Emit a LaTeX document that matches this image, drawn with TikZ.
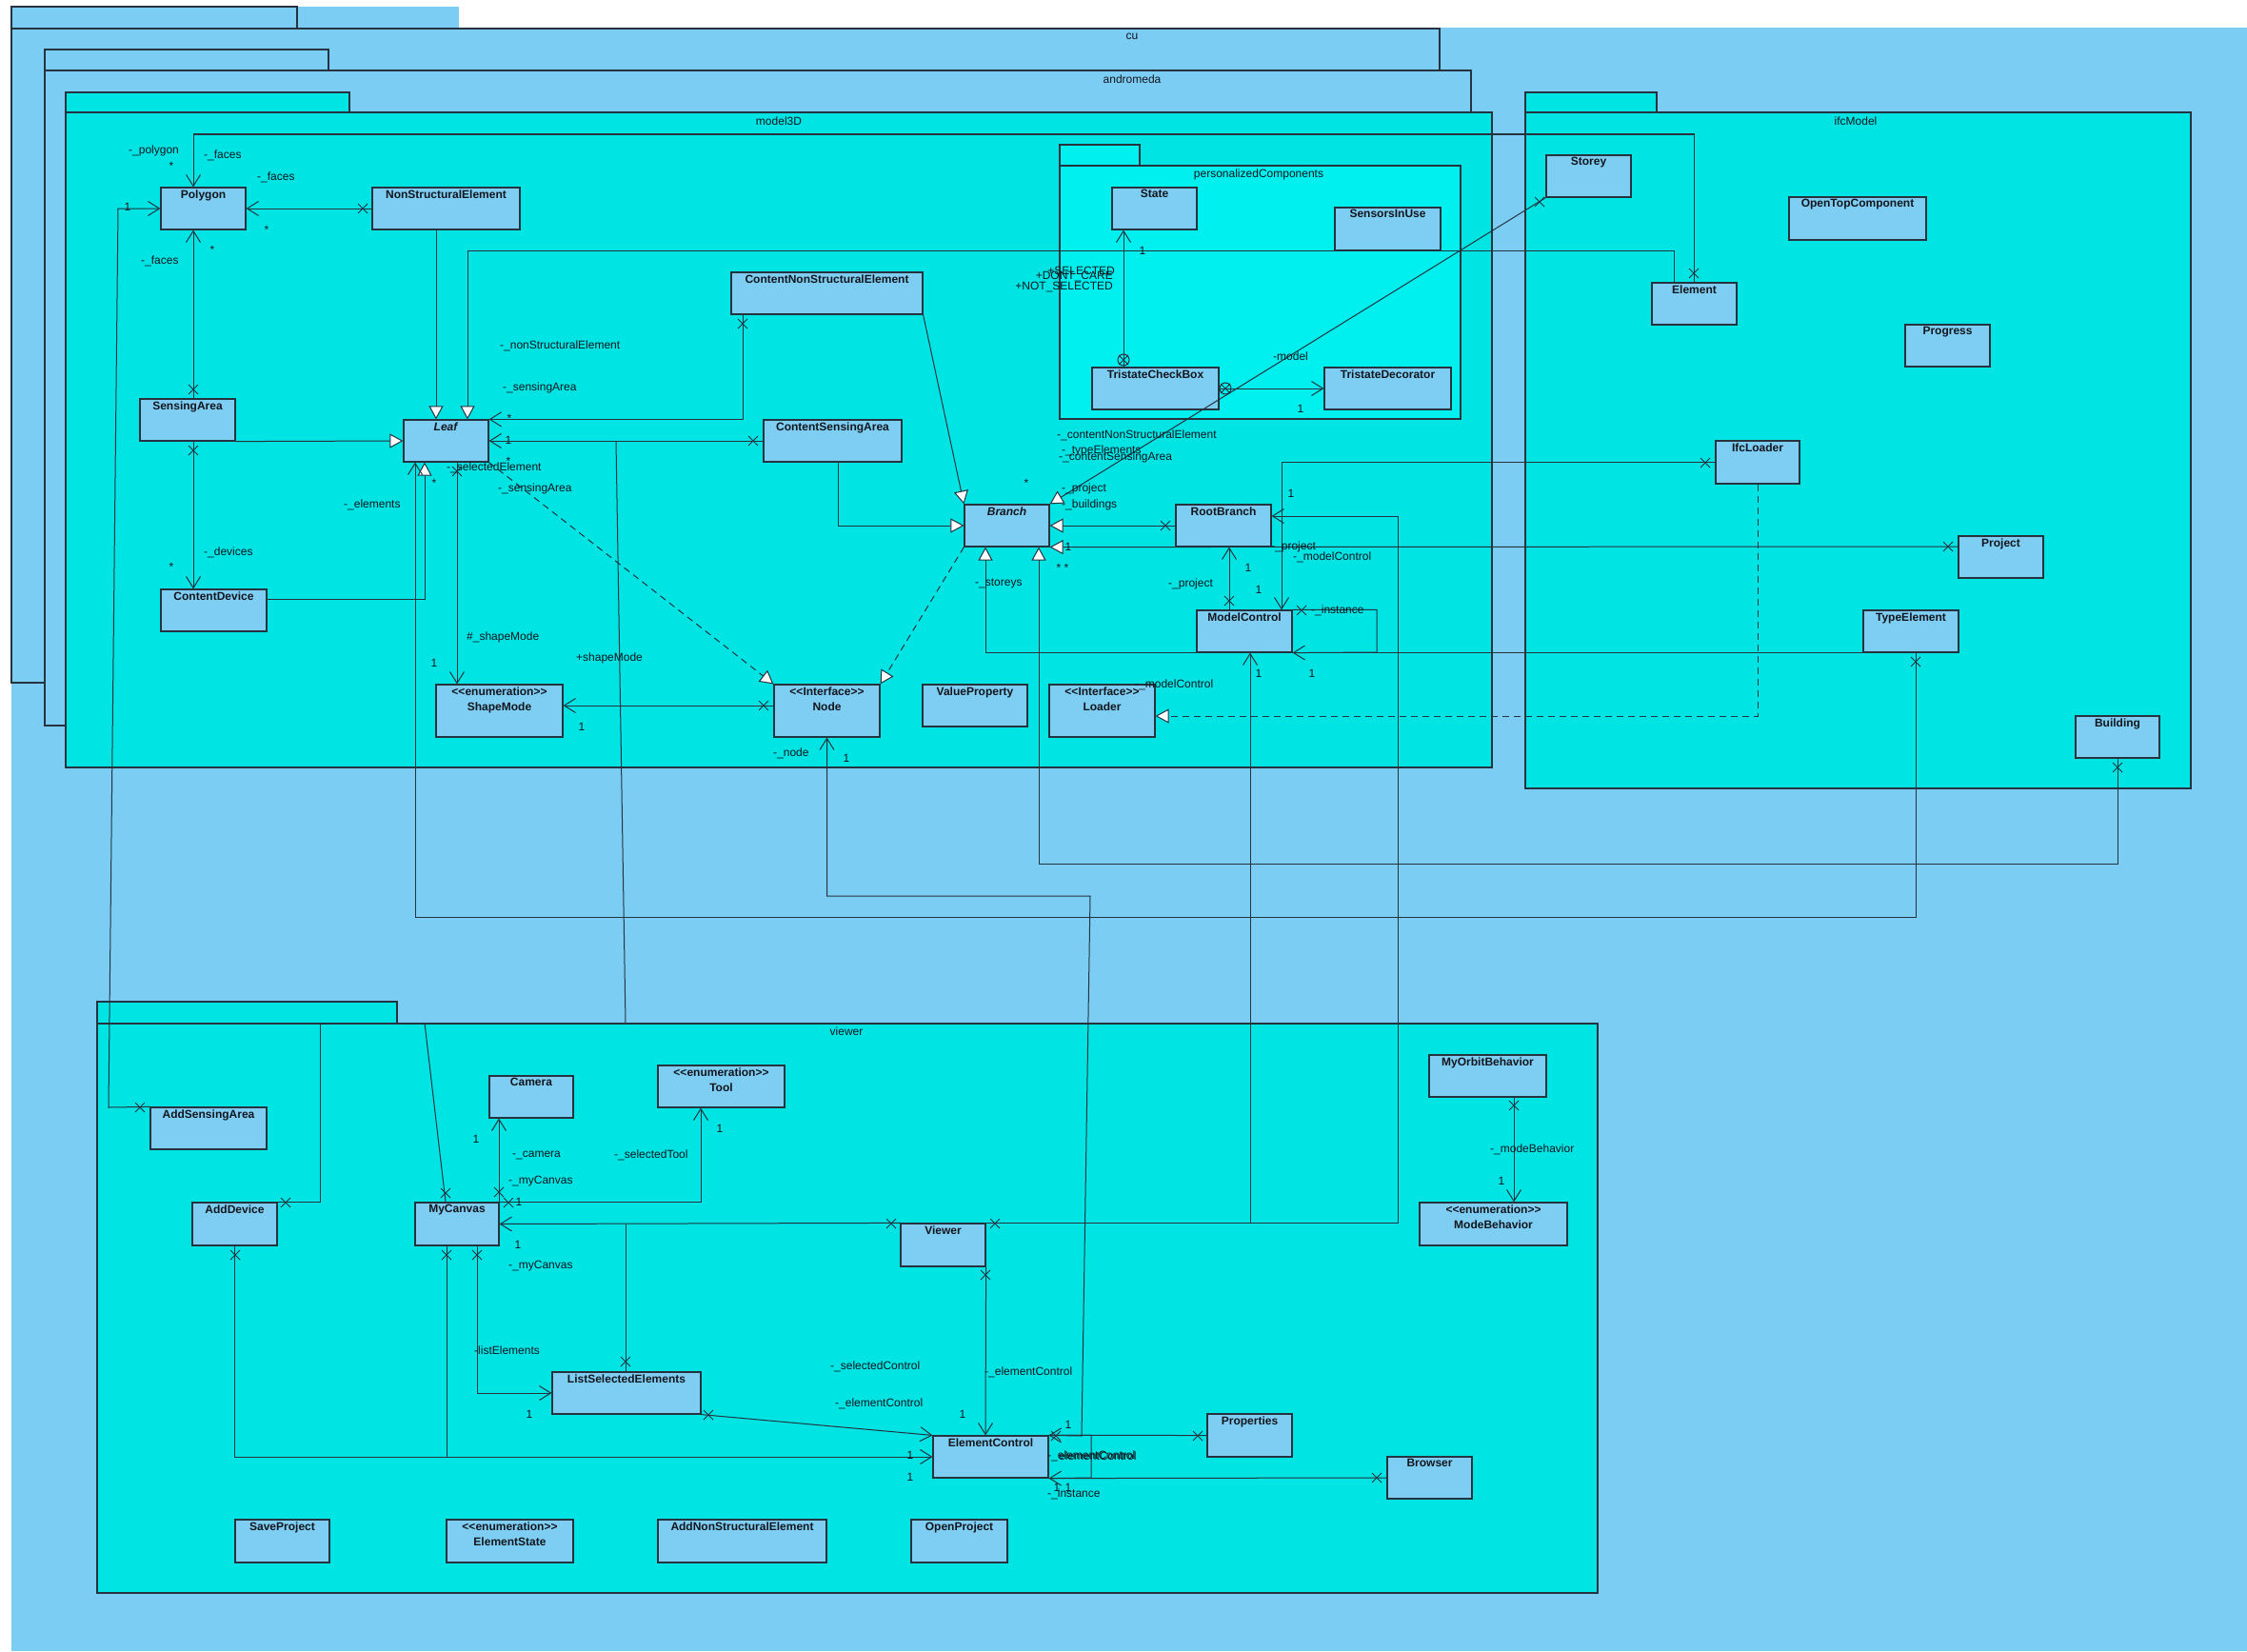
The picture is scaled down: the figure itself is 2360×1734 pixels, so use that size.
\documentclass[tikz,border=0pt]{standalone}
\usepackage{fontspec}
\newfontfamily\lsans{Liberation Sans}
\usetikzlibrary{arrows.meta,fit}
\definecolor{bgblue}{RGB}{124,205,243}
\definecolor{pkgcyan}{RGB}{0,228,228}
\definecolor{pccyan}{RGB}{0,240,240}
\definecolor{clsfill}{RGB}{126,206,243}
\definecolor{lc}{RGB}{38,50,62}
\definecolor{txt}{RGB}{20,22,30}
\newcounter{lbc}
\tikzset{
  lbl/.style={font=\lsans\fontsize{12}{14}\selectfont, text=txt, inner sep=0pt},
  cls/.style={draw=lc, line width=1.2pt, fill=clsfill, inner sep=0pt},
  clsname/.style={font=\lsans\bfseries\fontsize{12}{16}\selectfont, text=txt, inner sep=0pt, anchor=north, align=center},
  pkg/.style={draw=lc, line width=1.2pt, inner sep=0pt},
  pkgtab/.style={draw=lc, line width=1.2pt},
  conn/.style={draw=lc, line width=1pt},
  dsh/.style={dash pattern=on 7pt off 5pt},
  nav/.style={-{Straight Barb[length=12pt,width=15pt,line width=1pt]}},
  gen/.style={-{Triangle[length=14pt,width=15pt,fill=white,line width=1pt]}},
  xmk/.style={draw=lc, line width=1pt},
}
\newcommand\umlcls[6]{%
  \node[cls, fit={(#2,#3)(#4,#5)}] (#1) {};
  \node[clsname] (#1-name) at ([yshift=-3pt]#1.north) {#6};}
\newcommand\umllb[4][west]{\stepcounter{lbc}\node[lbl,anchor=#1] (lb\arabic{lbc}) at (#2,#3) {#4};}
\newcommand\umlx[2]{\draw[xmk] (#1,#2) +(-5,-5) -- +(5,5) +(-5,5) -- +(5,-5);}
\newcommand\umlanc[2]{\draw[xmk] (#1,#2) circle[radius=6pt] +(-5,-5) -- +(5,5) +(-5,5) -- +(5,-5);}
\begin{document}
\begin{tikzpicture}[x=1pt,y=-1pt]
\useasboundingbox (0,0) rectangle (2360,1734);
\fill[white] (0,0) rectangle (2360,1734);
% outer background
\fill[bgblue] (12,7) rectangle (482,30);
\fill[bgblue] (12,29) rectangle (2360,1734);
% packages
\draw[pkgtab] (12,30) -- (12,7) -- (312,7) -- (312,30);
\node[pkg, fill=bgblue, fit={(12,30)(1512,717)}] (cu) {};
\filldraw[pkgtab, fill=bgblue] (47,52) rectangle (345,74);
\node[pkg, fill=bgblue, fit={(47,74)(1545,762)}] (andromeda) {};
\filldraw[pkgtab, fill=pkgcyan] (69,97) rectangle (367,118);
\node[pkg, fill=pkgcyan, fit={(69,118)(1567,806)}] (model3D) {};
\filldraw[pkgtab, fill=pccyan] (1113,152) rectangle (1197,174);
\node[pkg, fill=pccyan, fit={(1113,174)(1534,440)}] (pc) {};
\filldraw[pkgtab, fill=pkgcyan] (1602,97) rectangle (1740,118);
\node[pkg, fill=pkgcyan, fit={(1602,118)(2301,828)}] (ifcModel) {};
\filldraw[pkgtab, fill=pkgcyan] (102,1052) rectangle (417,1075);
\node[pkg, fill=pkgcyan, fit={(102,1075)(1678,1673)}] (viewer) {};
\umllb[center]{1189}{38}{cu}
\umllb[center]{1189}{83}{andromeda}
\umllb[center]{818}{127}{model3D}
\umllb[center]{1949}{127}{ifcModel}
\umllb[center]{1322}{183}{personalizedComponents}
\umllb[center]{889}{1083}{viewer}
% classes
\umlcls{Polygon}{169}{197}{258}{241}{Polygon}
\umlcls{NSE}{391}{197}{546}{241}{NonStructuralElement}
\umlcls{SensingArea}{147}{419}{247}{463}{SensingArea}
\umlcls{Leaf}{424}{441}{513}{485}{\textit{Leaf}}
\umlcls{ContentDevice}{169}{619}{280}{663}{ContentDevice}
\umlcls{ShapeMode}{458}{719}{591}{774}{<<enumeration>>\\ShapeMode}
\umlcls{CNSE}{768}{286}{969}{330}{ContentNonStructuralElement}
\umlcls{CSA}{802}{441}{947}{485}{ContentSensingArea}
\umlcls{State}{1168}{197}{1257}{241}{State}
\umlcls{SensorsInUse}{1402}{218}{1513}{263}{SensorsInUse}
\umlcls{TCB}{1147}{386}{1280}{430}{TristateCheckBox}
\umlcls{TDec}{1391}{386}{1524}{430}{TristateDecorator}
\umlcls{Branch}{1013}{530}{1102}{574}{\textit{Branch}}
\umlcls{RootBranch}{1235}{530}{1335}{574}{RootBranch}
\umlcls{ModelControl}{1257}{641}{1357}{685}{ModelControl}
\umlcls{Node}{813}{719}{924}{774}{<<Interface>>\\Node}
\umlcls{ValueProperty}{969}{719}{1079}{763}{ValueProperty}
\umlcls{Loader}{1102}{719}{1213}{774}{<<Interface>>\\Loader}
\umlcls{Storey}{1624}{163}{1713}{207}{Storey}
\umlcls{OpenTop}{1879}{207}{2023}{252}{OpenTopComponent}
\umlcls{Element}{1735}{297}{1824}{341}{Element}
\umlcls{Progress}{2001}{341}{2090}{385}{Progress}
\umlcls{IfcLoader}{1802}{463}{1890}{508}{IfcLoader}
\umlcls{Project}{2057}{563}{2146}{607}{Project}
\umlcls{TypeElement}{1957}{641}{2057}{685}{TypeElement}
\umlcls{Building}{2180}{752}{2268}{796}{Building}
\umlcls{AddSensingArea}{158}{1163}{280}{1207}{AddSensingArea}
\umlcls{AddDevice}{202}{1263}{291}{1308}{AddDevice}
\umlcls{Camera}{514}{1130}{602}{1174}{Camera}
\umlcls{Tool}{691}{1119}{824}{1163}{<<enumeration>>\\Tool}
\umlcls{MyCanvas}{436}{1263}{524}{1308}{MyCanvas}
\umlcls{LSE}{580}{1441}{736}{1485}{ListSelectedElements}
\umlcls{SaveProject}{247}{1596}{346}{1641}{SaveProject}
\umlcls{ElementState}{469}{1596}{602}{1641}{<<enumeration>>\\ElementState}
\umlcls{AddNSE}{691}{1596}{868}{1641}{AddNonStructuralElement}
\umlcls{OpenProject}{957}{1596}{1058}{1641}{OpenProject}
\umlcls{Viewer}{946}{1285}{1035}{1330}{Viewer}
\umlcls{ElementControl}{980}{1508}{1101}{1552}{ElementControl}
\umlcls{Properties}{1268}{1485}{1357}{1530}{Properties}
\umlcls{Browser}{1457}{1530}{1546}{1574}{Browser}
\umlcls{MyOrbit}{1501}{1108}{1624}{1152}{MyOrbitBehavior}
\umlcls{ModeBehavior}{1491}{1263}{1646}{1308}{<<enumeration>>\\ModeBehavior}
% connectors
\draw[conn,nav] (Element.north) |- (203,141) -- (203,0 |- Polygon.north); \umlx{1779}{287}
\draw[conn,nav] (NSE.west) -- (Polygon.east); \umlx{381}{219}
\draw[conn,nav] (203,0 |- SensingArea.north) -- (203,0 |- Polygon.south); \umlx{203}{409}
\draw[conn,nav] (AddSensingArea.north west) -- (114,1163) -- (124,219) -- (Polygon.west); \umlx{147}{1163}
\draw[conn,gen] (SensingArea.south east) -- (Leaf.west);
\draw[conn,nav] (203,0 |- SensingArea.south) -- (203,0 |- ContentDevice.north); \umlx{203}{473}
\draw[conn,gen] (ContentDevice.east |- 0,629) -| (446,0 |- Leaf.south);
\draw[conn,gen] (458,0 |- NSE.south) -- (458,0 |- Leaf.north);
\draw[conn,gen] (1758,0 |- Element.north) |- (491,263) -- (491,0 |- Leaf.north);
\draw[conn,nav] (780,0 |- CNSE.south) |- (Leaf.north east); \umlx{780}{340}
\draw[conn,nav] (CSA.west) -- (Leaf.east); \umlx{791}{463}
\draw[conn] (657,0 |- viewer.north) -- (647,0 |- Leaf.east);
\draw[conn,nav] (480,0 |- Leaf.south) -- (480,0 |- ShapeMode.north); \umlx{480}{495}
\draw[conn,nav] (2012,0 |- TypeElement.south) |- (436,963) -- (436,0 |- Leaf.south); \umlx{2012}{695}
\draw[conn,dsh,gen] (Leaf.south east) -- (Node.north west);
\draw[conn,dsh,gen] (Branch.south west) -- (Node.north east);
\draw[conn,nav] (Node.west |- 0,741) -- (ShapeMode.east |- 0,741); \umlx{802}{741}
\draw[conn,gen] (CNSE.south east) -- (Branch.north west);
\draw[conn,gen] (880,0 |- CSA.south) |- (Branch.west);
\draw[conn,gen] (Storey.south west) -- (Branch.north east); \umlx{1617}{212}
\draw[conn,gen] (RootBranch.west) -- (Branch.east); \umlx{1224}{552}
\draw[conn,gen] (Project.west |- 0,574) -- (Branch.south east); \umlx{2046}{574}
\draw[conn,gen] (Building.south) |- (1091,907) -- (1091,0 |- Branch.south); \umlx{2224}{806}
\draw[conn,gen] (TypeElement.south west) -| (1035,0 |- Branch.south);
\draw[conn,nav] (1291,0 |- ModelControl.north) -- (1291,0 |- RootBranch.south); \umlx{1291}{631}
\draw[conn,nav] (IfcLoader.west) -| (1346,0 |- ModelControl.north); \umlx{1791}{486}
\draw[conn,nav] (ModelControl.north east) -| (1446,685) -- (ModelControl.south east); \umlx{1367}{641}
\draw[conn,nav] (Viewer.north east) -| (1468,542) -- (RootBranch.east |- 0,542); \umlx{1045}{1285}
\draw[conn,nav] (Viewer.north east) -| (1313,0 |- ModelControl.south);
\draw[conn,dsh,gen] (IfcLoader.south) |- (Loader.east |- 0,752);
\draw[conn,nav] (ElementControl.north east) -- (1136,1508) -- (1145,941) -| (Node.south); \umlx{1109}{1508}
\draw[conn,nav] (Properties.west) -- (ElementControl.north east); \umlx{1258}{1508}
\draw[conn,nav] (Browser.west) -- (ElementControl.south east); \umlx{1446}{1552}
\draw[conn] (ElementControl.north east) -| (1146,1552) -- (ElementControl.south east);
\draw[conn,nav] (524,0 |- MyCanvas.north) -- (524,0 |- Camera.south); \umlx{524}{1252}
\draw[conn,nav] (MyCanvas.north east) -| (736,0 |- Tool.south); \umlx{534}{1263}
\draw[conn,nav] (Viewer.north west) -- (MyCanvas.east); \umlx{936}{1285}
\draw[conn] (657,0 |- LSE.north) -- (657,0 |- MyCanvas.east); \umlx{657}{1430}
\draw[conn,nav] (501,0 |- MyCanvas.south) |- (LSE.west); \umlx{501}{1318}
\draw[conn,nav] (LSE.south east) -- (ElementControl.north west); \umlx{744}{1486}
\draw[conn,nav] (AddDevice.south) |- (ElementControl.west); \umlx{247}{1318}
\draw[conn] (469,0 |- MyCanvas.south) -- (469,0 |- ElementControl.west); \umlx{469}{1318}
\draw[conn,nav] (Viewer.south east) -- (1035,0 |- ElementControl.north); \umlx{1035}{1339}
\draw[conn] (336,0 |- viewer.north) |- (AddDevice.north east); \umlx{300}{1263}
\draw[conn] (446,0 |- viewer.north) -- (468,0 |- MyCanvas.north); \umlx{468}{1253}
\draw[conn,nav] (1590,0 |- MyOrbit.south) -- (1590,0 |- ModeBehavior.north); \umlx{1590}{1161}
\draw[conn,nav] (1180,0 |- TCB.north) -- (1180,0 |- State.south); \umlanc{1180}{378}
\draw[conn,nav] (TCB.east) -- (TDec.west); \umlanc{1287}{408}
% labels
\umllb{135}{158}{-\_polygon}
\umllb[center]{180}{174}{*}
\umllb{214}{163}{-\_faces}
\umllb{270}{186}{-\_faces}
\umllb[center]{280}{241}{*}
\umllb{148}{274}{-\_faces}
\umllb[center]{223}{262}{*}
\umllb[center]{134}{217}{1}
\umllb{525}{363}{-\_nonStructuralElement}
\umllb{528}{407}{-\_sensingArea}
\umllb[center]{535}{439}{*}
\umllb[center]{534}{462}{1}
\umllb{469}{491}{-\_selectedElement}
\umllb[center]{534}{484}{*}
\umllb[center]{456}{507}{*}
\umllb{523}{513}{-\_sensingArea}
\umllb{361}{530}{-\_elements}
\umllb{214}{580}{-\_devices}
\umllb[center]{180}{595}{*}
\umllb{490}{669}{\#\_shapeMode}
\umllb[center]{456}{696}{1}
\umllb{605}{691}{+shapeMode}
\umllb[center]{611}{763}{1}
\umllb[center]{1200}{263}{1}
\umllb[east]{1171}{284}{+SELECTED}
\umllb[east]{1169}{291}{+DONT\_CARE}
\umllb[east]{1169}{302}{+NOT\_SELECTED}
\umllb{1337}{374}{-model}
\umllb[center]{1366}{429}{1}
\umllb{1110}{457}{-\_contentNonStructuralElement}
\umllb{1115}{473}{-\_typeElements}
\umllb{1112}{480}{-\_contentSensingArea}
\umllb[center]{1078}{507}{*}
\umllb{1115}{513}{-\_project}
\umllb{1115}{530}{-\_buildings}
\umllb[center]{1122}{574}{1}
\umllb[center]{1116}{596}{* *}
\umllb{1024}{613}{-\_storeys}
\umllb[center]{1356}{518}{1}
\umllb{1335}{574}{-\_project}
\umllb{1358}{585}{-\_modelControl}
\umllb[center]{1311}{596}{1}
\umllb{1227}{613}{-\_project}
\umllb[center]{1322}{619}{1}
\umllb{1377}{641}{-\_instance}
\umllb[center]{1322}{707}{1}
\umllb[center]{1378}{707}{1}
\umllb{1192}{719}{-\_modelControl}
\umllb{812}{791}{-\_node}
\umllb[center]{889}{796}{1}
\umllb[center]{500}{1196}{1}
\umllb{538}{1213}{-\_camera}
\umllb{534}{1241}{-\_myCanvas}
\umllb{645}{1213}{-\_selectedTool}
\umllb[center]{756}{1185}{1}
\umllb[center]{545}{1262}{1}
\umllb[center]{544}{1307}{1}
\umllb{534}{1330}{-\_myCanvas}
\umllb{498}{1418}{-listElements}
\umllb[center]{556}{1485}{1}
\umllb{872}{1435}{-\_selectedControl}
\umllb{877}{1474}{-\_elementControl}
\umllb{1034}{1441}{-\_elementControl}
\umllb[center]{1011}{1485}{1}
\umllb[center]{1122}{1496}{1}
\umllb[center]{956}{1528}{1}
\umllb[center]{956}{1551}{1}
\umllb{1100}{1529}{-\_elementControl}
\umllb{1112}{1529}{elementControl}
\umllb[center]{1110}{1562}{1}
\umllb[center]{1122}{1562}{1}
\umllb{1100}{1569}{-\_instance}
\umllb{1565}{1207}{-\_modeBehavior}
\umllb[center]{1577}{1240}{1}
\end{tikzpicture}
\end{document}
